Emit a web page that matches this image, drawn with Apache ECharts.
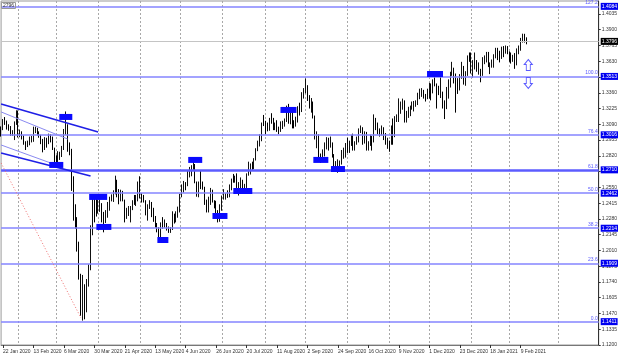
<!DOCTYPE html>
<html><head><meta charset="utf-8">
<script src="https://cdn.jsdelivr.net/npm/echarts@6/dist/echarts.min.js"></script>
<style>html,body{margin:0;padding:0;background:#fff}#c{width:620px;height:357px}</style>
</head><body><div id="c"></div>
<script>
// Daily OHLC, 21 Jan 2020 .. 12 Feb 2021 (trading days, no Dec 25 / Jan 1)
const opens=[
1.3050,1.3045,1.3125,1.3110,1.3070,1.3060,1.3000,1.3005,1.3110,
1.3200,1.2995,1.3015,1.2990,1.2935,1.2900,1.2915,1.2960,1.2965,1.3045,1.3045,1.3005,1.2995,1.2950,1.2880,1.2960,1.2930,1.2995,1.2975,1.2885,
1.2820,1.2760,1.2805,1.2820,1.2880,1.3045,1.3080,1.2870,1.2825,1.2570,1.2335,1.2270,1.2060,1.1770,1.1605,1.1640,1.1510,1.1750,1.1865,1.2210,1.2460,1.2415,
1.2405,1.2410,1.2410,1.2270,1.2260,1.2345,1.2390,1.2450,1.2460,1.2505,1.2610,1.2505,1.2435,1.2490,1.2440,1.2305,1.2320,1.2340,1.2370,1.2430,1.2410,1.2440,
1.2590,1.2490,1.2445,1.2435,1.2335,1.2400,1.2405,1.2315,1.2275,1.2220,1.2195,1.2125,1.2235,1.2225,1.2230,1.2190,1.2170,1.2190,1.2315,1.2260,1.2330,
1.2345,1.2485,1.2565,1.2590,1.2575,1.2665,1.2675,1.2725,1.2745,1.2590,1.2545,1.2575,1.2560,1.2545,1.2410,1.2350,1.2470,1.2490,1.2430,1.2425,1.2335,1.2315,
1.2400,1.2470,1.2470,1.2485,1.2475,1.2545,1.2610,1.2605,1.2615,1.2560,1.2565,1.2580,1.2565,1.2565,1.2655,1.2730,1.2735,1.2720,1.2795,1.2880,1.2945,1.2995,1.3095,
1.3085,1.3070,1.3055,1.3140,1.3120,1.3055,1.3070,1.3045,1.3040,1.3085,1.3090,1.3115,1.3240,1.3100,1.3215,1.3090,1.3085,1.3135,1.3230,1.3200,1.3350,
1.3370,1.3385,1.3310,1.3265,1.3275,1.3160,1.2970,1.2990,1.2805,1.2795,1.2855,1.2920,1.2950,1.2915,1.2915,1.2815,1.2735,1.2735,1.2745,1.2750,1.2825,1.2825,
1.2920,1.2885,1.2940,1.2970,1.2880,1.2935,1.2945,1.3045,1.3055,1.2935,1.3010,1.2895,1.2915,1.2950,1.2940,1.3135,1.3085,1.3040,1.3030,1.3050,1.2975,1.2925,
1.2945,1.2935,1.3050,1.2985,1.3145,1.3150,1.3185,1.3265,1.3280,1.3115,1.3190,1.3200,1.3245,1.3255,1.3275,1.3285,1.3320,1.3345,1.3365,1.3345,1.3315,
1.3335,1.3420,1.3360,1.3450,1.3435,1.3385,1.3360,1.3360,1.3290,1.3225,1.3325,1.3465,1.3510,1.3575,1.3510,1.3450,1.3385,1.3495,1.3555,1.3450,1.3515,1.3675,
1.3670,1.3565,1.3610,1.3610,1.3565,1.3565,1.3520,1.3645,1.3660,1.3685,1.3590,1.3590,1.3610,1.3665,1.3735,1.3685,1.3675,1.3740,1.3710,1.3745,
1.3705,1.3675,1.3645,1.3665,1.3605,1.3730,1.3745,1.3815,1.3840,1.3815];
const highs=[
1.3072,1.3135,1.3152,1.3122,1.3090,1.3075,1.3040,1.3115,1.3210,
1.3208,1.3045,1.3030,1.2995,1.2945,1.2950,1.2985,1.2990,1.3070,1.3070,1.3060,1.3030,1.3000,1.2965,1.2980,1.2975,1.3010,1.3005,1.2985,1.2890,
1.2825,1.2860,1.2855,1.2905,1.3050,1.3200,1.3090,1.2935,1.2880,1.2645,1.2405,1.2295,1.2085,1.1810,1.1800,1.1720,1.1765,1.1890,1.2225,1.2485,1.2475,1.2485,
1.2445,1.2445,1.2415,1.2340,1.2355,1.2425,1.2470,1.2490,1.2525,1.2650,1.2615,1.2535,1.2530,1.2520,1.2445,1.2375,1.2390,1.2390,1.2440,1.2485,1.2485,1.2600,
1.2645,1.2500,1.2485,1.2440,1.2405,1.2440,1.2425,1.2375,1.2305,1.2245,1.2210,1.2250,1.2295,1.2275,1.2245,1.2215,1.2210,1.2345,1.2325,1.2345,1.2385,
1.2495,1.2575,1.2605,1.2595,1.2695,1.2725,1.2740,1.2810,1.2750,1.2600,1.2600,1.2690,1.2600,1.2555,1.2445,1.2470,1.2545,1.2530,1.2440,1.2435,1.2355,1.2405,
1.2480,1.2535,1.2500,1.2525,1.2575,1.2625,1.2665,1.2650,1.2670,1.2595,1.2635,1.2615,1.2580,1.2670,1.2770,1.2755,1.2770,1.2800,1.2885,1.2950,1.3005,1.3105,1.3170,
1.3120,1.3105,1.3145,1.3185,1.3145,1.3105,1.3125,1.3070,1.3115,1.3120,1.3140,1.3250,1.3265,1.3225,1.3230,1.3125,1.3155,1.3245,1.3275,1.3365,1.3400,
1.3482,1.3425,1.3340,1.3315,1.3285,1.3165,1.3030,1.3005,1.2840,1.2875,1.2935,1.2980,1.2975,1.2985,1.2935,1.2835,1.2775,1.2790,1.2780,1.2870,1.2890,1.2930,
1.2975,1.2950,1.3000,1.3010,1.2945,1.2985,1.3055,1.3080,1.3065,1.3030,1.3025,1.2945,1.3000,1.2990,1.3175,1.3145,1.3105,1.3055,1.3080,1.3065,1.3015,1.2975,
1.2950,1.3080,1.3140,1.3160,1.3175,1.3312,1.3285,1.3310,1.3295,1.3205,1.3240,1.3250,1.3285,1.3290,1.3295,1.3360,1.3395,1.3400,1.3385,1.3350,1.3395,
1.3445,1.3440,1.3475,1.3540,1.3440,1.3420,1.3530,1.3370,1.3295,1.3410,1.3475,1.3540,1.3625,1.3575,1.3525,1.3485,1.3520,1.3625,1.3590,1.3545,1.3680,1.3705,
1.3705,1.3640,1.3705,1.3640,1.3620,1.3565,1.3665,1.3680,1.3710,1.3710,1.3620,1.3645,1.3690,1.3745,1.3745,1.3720,1.3755,1.3760,1.3765,1.3760,
1.3715,1.3705,1.3685,1.3700,1.3740,1.3765,1.3830,1.3866,1.3865,1.3835];
const lows=[
1.2985,1.3040,1.3085,1.3045,1.3035,1.2990,1.2990,1.2955,1.3085,
1.2977,1.2980,1.2960,1.2915,1.2870,1.2895,1.2910,1.2935,1.2940,1.3015,1.2995,1.2975,1.2920,1.2850,1.2870,1.2890,1.2920,1.2935,1.2870,1.2725,
1.2725,1.2745,1.2785,1.2810,1.2870,1.3000,1.2855,1.2825,1.2520,1.2265,1.2195,1.2000,1.1760,1.1450,1.1409,1.1420,1.1480,1.1700,1.1840,1.2140,1.2250,1.2300,
1.2325,1.2340,1.2250,1.2165,1.2245,1.2290,1.2350,1.2430,1.2425,1.2490,1.2465,1.2405,1.2430,1.2430,1.2250,1.2280,1.2305,1.2250,1.2355,1.2400,1.2390,1.2430,
1.2455,1.2420,1.2420,1.2310,1.2265,1.2365,1.2295,1.2255,1.2205,1.2165,1.2075,1.2105,1.2195,1.2205,1.2180,1.2160,1.2160,1.2185,1.2240,1.2250,1.2290,
1.2335,1.2465,1.2505,1.2525,1.2560,1.2635,1.2645,1.2700,1.2585,1.2470,1.2465,1.2535,1.2530,1.2400,1.2335,1.2335,1.2400,1.2420,1.2370,1.2325,1.2250,1.2255,
1.2350,1.2445,1.2445,1.2460,1.2465,1.2525,1.2590,1.2590,1.2545,1.2480,1.2540,1.2520,1.2500,1.2545,1.2650,1.2660,1.2700,1.2705,1.2780,1.2860,1.2900,1.2945,1.3075,
1.3005,1.3030,1.3035,1.3095,1.3040,1.3040,1.3025,1.3005,1.3025,1.3050,1.3070,1.3110,1.3095,1.3090,1.3055,1.3055,1.3070,1.3105,1.3165,1.3195,1.3310,
1.3355,1.3290,1.3225,1.3190,1.3140,1.2960,1.2885,1.2770,1.2760,1.2780,1.2815,1.2875,1.2865,1.2890,1.2805,1.2715,1.2690,1.2675,1.2690,1.2745,1.2795,1.2805,
1.2845,1.2845,1.2905,1.2865,1.2865,1.2915,1.2935,1.3015,1.2915,1.2925,1.2865,1.2865,1.2905,1.2865,1.2935,1.3040,1.3005,1.2985,1.2995,1.2955,1.2915,1.2880,
1.2855,1.2915,1.2915,1.2980,1.3110,1.3110,1.3180,1.3215,1.3105,1.3105,1.3145,1.3160,1.3215,1.3200,1.3240,1.3255,1.3305,1.3325,1.3310,1.3285,1.3305,
1.3310,1.3295,1.3355,1.3415,1.3225,1.3340,1.3315,1.3225,1.3135,1.3220,1.3310,1.3405,1.3505,1.3440,1.3190,1.3350,1.3380,1.3480,1.3430,1.3420,1.3505,1.3625,
1.3525,1.3490,1.3560,1.3540,1.3515,1.3450,1.3505,1.3605,1.3620,1.3580,1.3520,1.3575,1.3575,1.3655,1.3640,1.3620,1.3650,1.3665,1.3695,1.3690,
1.3625,1.3610,1.3625,1.3565,1.3595,1.3690,1.3720,1.3790,1.3790,1.3775];
const closes=[
1.3045,1.3125,1.3110,1.3075,1.3060,1.3000,1.3005,1.3110,1.3205,
1.2995,1.3015,1.2990,1.2935,1.2900,1.2915,1.2960,1.2965,1.3045,1.3045,1.3005,1.2995,1.2950,1.2880,1.2960,1.2930,1.2995,1.2975,1.2885,1.2820,
1.2760,1.2805,1.2820,1.2880,1.3045,1.3080,1.2870,1.2825,1.2570,1.2335,1.2270,1.2060,1.1770,1.1605,1.1640,1.1510,1.1750,1.1865,1.2210,1.2460,1.2415,1.2405,
1.2410,1.2410,1.2270,1.2260,1.2345,1.2390,1.2450,1.2460,1.2505,1.2610,1.2505,1.2435,1.2490,1.2440,1.2305,1.2320,1.2340,1.2370,1.2430,1.2410,1.2440,1.2590,
1.2490,1.2445,1.2435,1.2335,1.2400,1.2405,1.2315,1.2275,1.2220,1.2195,1.2125,1.2235,1.2225,1.2230,1.2190,1.2170,1.2190,1.2315,1.2260,1.2330,1.2345,
1.2485,1.2565,1.2590,1.2575,1.2665,1.2675,1.2725,1.2745,1.2590,1.2545,1.2575,1.2560,1.2545,1.2410,1.2350,1.2470,1.2490,1.2430,1.2425,1.2335,1.2315,1.2400,
1.2470,1.2470,1.2485,1.2475,1.2545,1.2610,1.2605,1.2615,1.2560,1.2565,1.2580,1.2565,1.2565,1.2655,1.2730,1.2735,1.2720,1.2795,1.2880,1.2945,1.2995,1.3095,1.3085,
1.3070,1.3055,1.3140,1.3120,1.3055,1.3070,1.3045,1.3040,1.3085,1.3090,1.3115,1.3240,1.3100,1.3215,1.3090,1.3085,1.3135,1.3230,1.3200,1.3350,1.3370,
1.3385,1.3310,1.3265,1.3275,1.3160,1.2970,1.2990,1.2805,1.2795,1.2855,1.2920,1.2950,1.2915,1.2915,1.2815,1.2735,1.2735,1.2745,1.2750,1.2825,1.2825,1.2920,
1.2885,1.2940,1.2970,1.2880,1.2935,1.2945,1.3045,1.3055,1.2935,1.3010,1.2895,1.2915,1.2950,1.2940,1.3135,1.3085,1.3040,1.3030,1.3050,1.2975,1.2925,1.2945,
1.2935,1.3050,1.2985,1.3145,1.3150,1.3185,1.3265,1.3280,1.3115,1.3190,1.3200,1.3245,1.3255,1.3275,1.3285,1.3320,1.3345,1.3365,1.3345,1.3315,1.3335,
1.3420,1.3360,1.3450,1.3435,1.3385,1.3360,1.3360,1.3290,1.3225,1.3325,1.3465,1.3510,1.3575,1.3510,1.3450,1.3385,1.3495,1.3555,1.3450,1.3515,1.3675,1.3670,
1.3565,1.3610,1.3610,1.3565,1.3565,1.3520,1.3645,1.3660,1.3685,1.3590,1.3590,1.3610,1.3665,1.3735,1.3685,1.3675,1.3740,1.3710,1.3745,1.3705,
1.3675,1.3645,1.3665,1.3605,1.3730,1.3745,1.3815,1.3840,1.3815,1.3796];

// Fibonacci levels
const fibRatios=['0.0','23.6','38.2','50.0','61.8','76.4','100.0','127.2'];
const fibPrices=[1.1411,1.1909,1.2214,1.2462,1.2710,1.3016,1.3513,1.4084];
const lastPrice=1.3796;
// price axis ticks
const priceMin=1.1200, priceMax=1.4146, priceStep=0.0135;
// trend lines [startIdx,startPrice,endIdx,endPrice]
const trendLines=[[0,1.3264,51,1.3024],[0,1.3196,35,1.2964],[0,1.2913,26,1.2759],[0,1.2844,47,1.2647]];
const trendStrong=[true,false,false,true];
const dottedLine=[0,1.2759,42,1.1431];
// blue marker boxes [idx, price, width]
const boxes=[[34,1.3153,13],[29,1.2742,14],[51,1.2468,18],[54,1.2211,15],[85,1.2099,11],[102,1.2785,14],[115,1.2305,15],[127,1.2519,19],[151,1.3213,16],[168,1.2785,15],[177,1.2707,14],[228,1.3521,16]];
const arrowUp=[277,1.3598], arrowDown=[277,1.3444];
const monthGrid=[9,29,51,73,94,116,139,160,182,204,225,247,267,293];

const MON=['Jan','Feb','Mar','Apr','May','Jun','Jul','Aug','Sep','Oct','Nov','Dec'];
const holidays=['2020-12-25','2021-01-01'];
const SLOTS=315;
function buildDates(n){
  const out=[];const d=new Date(Date.UTC(2020,0,21));
  while(out.length<n){
    const wd=d.getUTCDay();const iso=d.toISOString().slice(0,10);
    if(wd!==0&&wd!==6&&!holidays.includes(iso)) out.push(d.getUTCDate()+' '+MON[d.getUTCMonth()]+' '+d.getUTCFullYear());
    d.setUTCDate(d.getUTCDate()+1);
  }
  return out;
}
const dates=buildDates(SLOTS);
const N=closes.length;
const showLabel=(i)=>i<N && (i-1)%16===0;
const ohlc=closes.map((c,i)=>[opens[i],c,lows[i],highs[i]]);
const FONT="'Liberation Sans',Arial,sans-serif";
const FS=5;

const mlData=[];
fibPrices.forEach((p,k)=>{
  const strong=fibRatios[k]==='61.8';
  mlData.push({yAxis:p,lineStyle:{color:strong?'#5c5cff':'#8484ff',width:strong?2.5:1.6,type:'solid'},
    label:{show:true,position:'end',distance:2,formatter:p.toFixed(4),backgroundColor:'#0000f0',color:'#fff',fontSize:FS,fontFamily:FONT,padding:[1,1,1,1]}});
  mlData.push({yAxis:p,lineStyle:{width:0,color:'rgba(0,0,0,0)'},
    label:{show:true,position:'insideEndTop',distance:1,formatter:fibRatios[k],color:'#5a5aff',fontSize:FS,fontFamily:FONT}});
});
mlData.push({yAxis:lastPrice,lineStyle:{color:'#c4c4c4',width:1,type:'solid'},
  label:{show:true,position:'end',distance:2,formatter:lastPrice.toFixed(4),backgroundColor:'#000',color:'#fff',fontSize:FS,fontFamily:FONT,padding:[1,1,1,1]}});
trendLines.forEach((t,k)=>{
  mlData.push([{coord:[t[0],t[1]],lineStyle:{color:trendStrong[k]?'#1f1fe6':'#8a8af0',width:trendStrong[k]?1.6:1,type:'solid'}},{coord:[t[2],t[3]]}]);
});
mlData.push([{coord:[dottedLine[0],dottedLine[1]],lineStyle:{color:'#f07070',width:1,type:[1,2]}},{coord:[dottedLine[2],dottedLine[3]]}]);

const mpData=boxes.map(b=>({coord:[b[0],b[1]],symbol:'rect',symbolSize:[b[2],6],itemStyle:{color:'#0a0aff'}}));
mpData.push({coord:arrowUp,symbol:'path://M4,0L8,5L6,5L6,11L2,11L2,5L0,5Z',symbolSize:[8,11],itemStyle:{color:'#fff',borderColor:'#5a5aff',borderWidth:1}});
mpData.push({coord:arrowDown,symbol:'path://M2,0L6,0L6,6L8,6L4,11L0,6L2,6Z',symbolSize:[8,11],itemStyle:{color:'#fff',borderColor:'#5a5aff',borderWidth:1}});

const chart=echarts.init(document.getElementById('c'),null,{renderer:'canvas'});
chart.setOption({
  animation:false,
  backgroundColor:'#fff',
  title:{text:'2796',left:1,top:2,padding:[1,2],borderColor:'#999',borderWidth:1,textStyle:{fontSize:FS,fontWeight:'normal',color:'#333',fontFamily:FONT}},
  grid:{left:0,right:19,top:1,bottom:12,show:true,borderColor:'#999',borderWidth:1},
  xAxis:{type:'category',data:dates,boundaryGap:false,
    axisLine:{show:true,lineStyle:{color:'#777'}},
    axisTick:{show:true,length:3,interval:showLabel,lineStyle:{color:'#333'}},
    axisLabel:{interval:showLabel,showMinLabel:true,hideOverlap:false,align:'left',fontSize:FS,color:'#333',margin:4,fontFamily:FONT},
    splitLine:{show:true,interval:(i)=>monthGrid.includes(i),lineStyle:{color:'#a8a8a8',type:[2,2],width:1}}},
  yAxis:{type:'value',position:'right',min:priceMin,max:priceMax,interval:priceStep,
    axisLine:{show:true,lineStyle:{color:'#333'}},
    axisTick:{show:true,length:2,lineStyle:{color:'#333'}},
    axisLabel:{fontSize:FS,color:'#333',margin:3,fontFamily:FONT,showMaxLabel:false,formatter:(v)=>v.toFixed(4)},
    splitLine:{show:false}},
  series:[{type:'candlestick',data:ohlc,barWidth:1.3,
    itemStyle:{color:'#ffffff',color0:'#000000',borderColor:'#111',borderColor0:'#000',borderWidth:1},
    markLine:{silent:true,symbol:'none',animation:false,label:{show:false},data:mlData},
    markPoint:{silent:true,animation:false,label:{show:false},data:mpData}}]
});
</script></body></html>
